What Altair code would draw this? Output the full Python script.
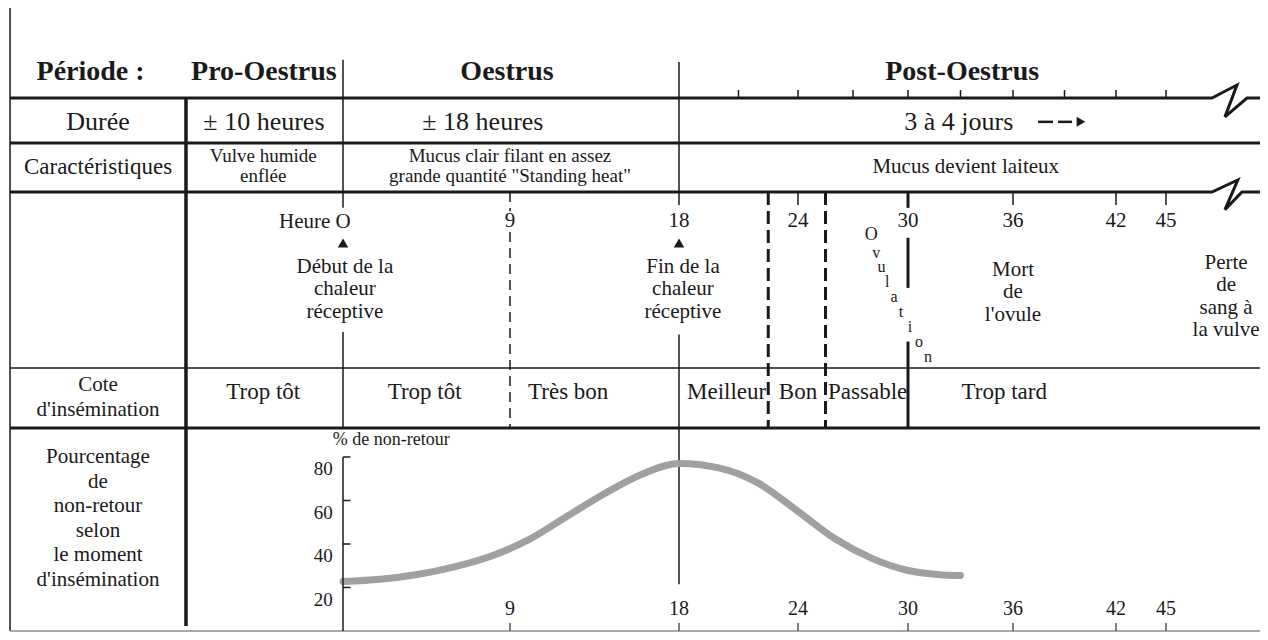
import altair as alt
import pandas as pd

FONT = "Liberation Serif"
INK = "#1a1a1a"

# ---------------- data ----------------
period_labels = ["Période :", "Pro-Oestrus", "Oestrus", "Post-Oestrus"]
period_hours = [-13.6, -4.26, 8.84, 33.1]

duration_labels = ["Durée", "± 10 heures", "± 18 heures", "3 à 4 jours"]
duration_hours = [-13.2, -4.26, 7.54, 32.9]

charac_title = ["Caractéristiques"]
charac_labels = ["Vulve humide\nenflée",
                 "Mucus clair filant en assez\ngrande quantité \"Standing heat\"",
                 "Mucus devient laiteux"]
charac_hours = [-4.3, 9.0, 33.3]

hour_marks = [9, 18, 24, 30, 36, 42, 45]
scale_ticks = [21, 24, 27, 30, 33, 36, 39, 42, 45]

event_labels = ["Début de la\nchaleur\nréceptive", "Fin de la\nchaleur\nréceptive",
                "Mort\nde\nl'ovule", "Perte\nde\nsang à\nla vulve"]
event_hours = [0.1, 18.2, 36.0, 48.6]
event_rows = [3.426, 3.426, 3.443, 3.403]

ovulation_letters = list("Ovulation")
ovulation_hours = [28.0, 28.27, 28.55, 28.86, 29.24, 29.62, 30.11, 30.63, 31.14]
ovulation_rows = [3.245, 3.345, 3.428, 3.511, 3.597, 3.682, 3.767, 3.852, 3.937]

rating_title = ["Cote\nd'insémination"]
rating_labels = ["Trop tôt", "Trop tôt", "Très bon", "Meilleur", "Bon", "Passable", "Trop tard"]
rating_hours = [-4.3, 4.4, 12.1, 20.4, 24.0, 27.8, 35.5]

pct_title = ["Pourcentage\nde\nnon-retour\nselon\nle moment\nd'insémination"]
curve_hours = [0, 2, 4, 6, 8, 10, 12, 14, 16, 18, 20, 22, 24, 26, 28, 30, 32, 33]
curve_pct = [22.8, 23.8, 26, 29.5, 34.5, 42, 52.5, 63, 72, 77, 75, 68, 55, 42.5, 33.5, 27.8, 25.8, 25.5]
pct_ticks = [20, 40, 60, 80]

# ---------------- scales ----------------
XD = [-18.05, 0, 9, 18, 24, 30, 36, 42, 45, 50.63]
XR = [0, 335, 502, 671, 790, 900, 1005, 1108, 1158, 1252]
YD = [-1, 0, 1, 2, 3, 4, 5, 6]
YR = [0, 37, 90, 135, 184, 360, 420, 623]
xs = alt.Scale(domain=XD, range=XR, nice=False, zero=False)
ys = alt.Scale(domain=YD, range=YR, nice=False, zero=False)
ps = alt.Scale(domain=[0, 80], range=[623, 449], nice=False, zero=False)

LEFT, RIGHT = -17.94, 50.63
COL = -8.46


def X(f="h"):
    return alt.X(f"{f}:Q", scale=xs, axis=None)


def Yr(f="r"):
    return alt.Y(f"{f}:Q", scale=ys, axis=None)


def texts(labels, hours, rows, size, weight="normal", align="center", lh=None, dy=0):
    df = pd.DataFrame({"t": labels, "h": hours, "r": rows})
    kw = dict(font=FONT, fontSize=size, fontWeight=weight, align=align,
              baseline="middle", color=INK, lineBreak="\n")
    if lh:
        kw["lineHeight"] = lh
    if dy:
        kw["dy"] = dy
    return alt.Chart(df).mark_text(**kw).encode(x=X(), y=Yr(), text="t:N")


def vrules(hours, r1, r2, width=1.5, dash=None, color=INK):
    df = pd.DataFrame({"h": hours, "r1": r1, "r2": r2})
    kw = dict(strokeWidth=width, color=color)
    if dash:
        kw["strokeDash"] = dash
    return alt.Chart(df).mark_rule(**kw).encode(x=X(), y=Yr("r1"), y2="r2:Q")


def hrules(h1, h2, rows, width=1.5, color=INK):
    df = pd.DataFrame({"h1": h1, "h2": h2, "r": rows})
    return alt.Chart(df).mark_rule(strokeWidth=width, color=color).encode(
        x=X("h1"), x2="h2:Q", y=Yr())


def polyline(hours, rows, width=3):
    df = pd.DataFrame({"h": hours, "r": rows, "o": list(range(len(hours)))})
    return alt.Chart(df).mark_line(strokeWidth=width, color=INK, strokeJoin="miter").encode(
        x=X(), y=Yr(), order="o:Q")


n = len
layers = []

# ---- table grid ----
layers.append(vrules([LEFT], [-1], [6], 1.5))
layers.append(vrules([COL], [1], [5.975], 3.5))
layers.append(vrules([0, 0], [0.28, 3.795], [3.09, 5.0], 1.5))
layers.append(vrules([18, 18], [0.32, 3.81], [3.074, 5.77], 1.5))
layers.append(vrules([24, 36, 42, 45], [3] * 4, [3.074] * 4, 1.5))
layers.append(vrules(scale_ticks, [0.85] * n(scale_ticks), [1.0] * n(scale_ticks), 1.5))
layers.append(vrules([30, 30, 30], [3.0, 3.26, 3.85], [3.09, 3.545, 5.0], 3))
layers.append(vrules([9, 9], [3.0, 3.227], [3.11, 5.0], 1.5, dash=[10, 6]))
layers.append(vrules([22.5, 25.5], [3, 3], [5, 5], 3, dash=[13, 6]))

layers.append(polyline([LEFT, 47.75, 49.25, 48.53, 49.85, RIGHT], [1, 1, 0.755, 1.42, 1, 1], 3))
layers.append(polyline([LEFT, 47.75, 49.3, 48.53, 49.55, RIGHT], [3, 3, 2.755, 3.10, 3, 3], 3))
layers.append(hrules([LEFT], [RIGHT], [2], 3))
layers.append(hrules([LEFT], [RIGHT], [4], 1.5))
layers.append(hrules([LEFT], [RIGHT], [5], 3))
layers.append(hrules([LEFT], [RIGHT], [6], 1.5, color="#8a8a8a"))

# ---- texts ----
layers.append(texts(period_labels, period_hours, [0.51] * 4, 28, weight="bold"))
layers.append(texts(duration_labels, duration_hours, [1.53] * 4, 26))
layers.append(texts(charac_title, [-13.2], [2.49], 23))
layers.append(texts(charac_labels[:2], charac_hours[:2], [2.275] * 2, 19, lh=20))
layers.append(texts(charac_labels[2:], charac_hours[2:], [2.49], 21))
layers.append(texts([str(v) for v in hour_marks], hour_marks, [3.165] * n(hour_marks), 21))
layers.append(texts(["Heure O"], [0.42], [3.17], 21, align="right"))
layers.append(texts(event_labels, event_hours, event_rows, 21, lh=22.5))
layers.append(texts(ovulation_letters[:1], ovulation_hours[:1], ovulation_rows[:1], 18))
layers.append(texts(ovulation_letters[1:], ovulation_hours[1:], ovulation_rows[1:], 16))
layers.append(texts(rating_title, [-13.2], [4.283], 21, lh=25))
layers.append(texts(rating_labels, rating_hours, [4.4] * n(rating_labels), 23))
layers.append(texts(pct_title, [-13.2], [5.143], 21, lh=24.6))
layers.append(texts(["% de non-retour"], [2.6], [5.06], 18))
layers.append(texts([str(v) for v in hour_marks], hour_marks, [5.89] * n(hour_marks), 20))
layers.append(vrules(hour_marks, [5.96] * n(hour_marks), [6.0] * n(hour_marks), 1.5, color="#555"))

# ---- arrows ----
tri = pd.DataFrame({"h": [0, 18], "r": [3.29, 3.29]})
layers.append(alt.Chart(tri).mark_point(shape="triangle-up", filled=True, size=110, color=INK, opacity=1)
              .encode(x=X(), y=Yr()))
layers.append(hrules([37.46, 38.62], [38.33, 39.44], [1.53, 1.53], 2.5))
head = pd.DataFrame({"h": [39.96], "r": [1.53]})
layers.append(alt.Chart(head).mark_point(shape="triangle-right", filled=True, size=100, color=INK, opacity=1)
              .encode(x=X(), y=Yr()))

# ---- non-return curve ----
curve = pd.DataFrame({"h": curve_hours, "p": curve_pct})
layers.append(alt.Chart(curve).mark_line(interpolate="monotone", strokeWidth=7, color="#a0a0a0",
                                          strokeCap="round")
              .encode(x=X(), y=alt.Y("p:Q", scale=ps, axis=None)))
ax = pd.DataFrame({"h": [0], "a": [0], "b": [80]})
layers.append(alt.Chart(ax).mark_rule(strokeWidth=1.5, color=INK)
              .encode(x=X(), y=alt.Y("a:Q", scale=ps, axis=None), y2="b:Q"))
tk = pd.DataFrame({"h1": [0] * 4, "h2": [0.4] * 4, "p": pct_ticks})
layers.append(alt.Chart(tk).mark_rule(strokeWidth=1.5, color=INK)
              .encode(x=X("h1"), x2="h2:Q", y=alt.Y("p:Q", scale=ps, axis=None)))
tl = pd.DataFrame({"h": [-0.55] * 4, "p": pct_ticks, "t": [str(v) for v in pct_ticks]})
layers.append(alt.Chart(tl).mark_text(font=FONT, fontSize=19, align="right", baseline="middle",
                                       color=INK, dy=12)
              .encode(x=X(), y=alt.Y("p:Q", scale=ps, axis=None), text="t:N"))

chart = (alt.layer(*layers)
         .resolve_scale(x="independent", y="independent")
         .properties(width=1252, height=624, padding=0, autosize="none", background="white")
         .configure_view(stroke=None))

chart.save("out.html", embed_options={"renderer": "svg", "actions": False})
